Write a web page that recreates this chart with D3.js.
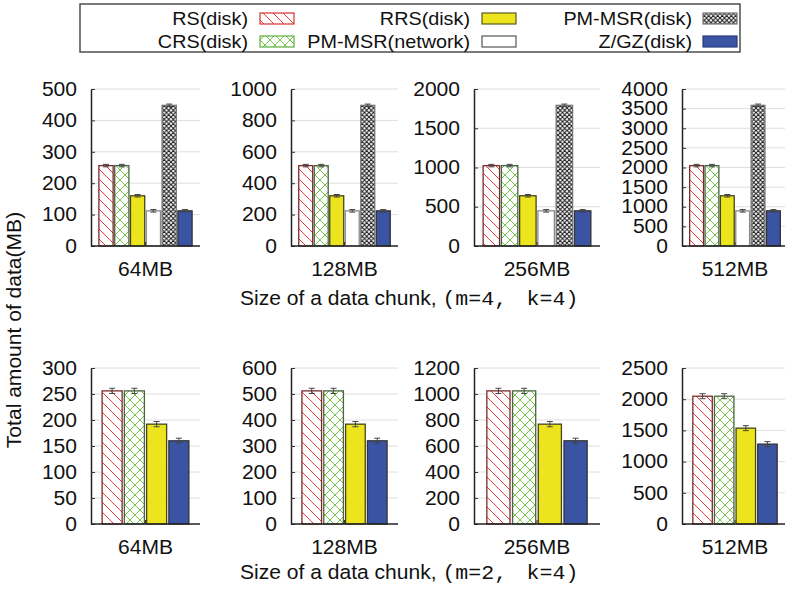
<!DOCTYPE html>
<html>
<head>
<meta charset="utf-8">
<script src="https://cdn.jsdelivr.net/npm/d3@7"></script>
<style>
  body { margin: 0; background: #fff; }
  text { font-family: "Liberation Sans", Arial, Helvetica, sans-serif; fill: #111; }
</style>
</head>
<body>
<svg id="chart" width="785" height="596"></svg>
<script>
// data
var topSeries = ["RS(disk)", "CRS(disk)", "RRS(disk)", "PM-MSR(network)", "PM-MSR(disk)", "Z/GZ(disk)"];
var bottomSeries = ["RS(disk)", "CRS(disk)", "RRS(disk)", "Z/GZ(disk)"];
var chunkSizes = ["64MB", "128MB", "256MB", "512MB"];

var topValues = [
  [256, 256, 160, 112, 448, 112],
  [512, 512, 320, 224, 896, 224],
  [1024, 1024, 640, 448, 1792, 448],
  [2048, 2048, 1280, 896, 3584, 896]
];
var topErrors = [
  [4, 4, 4, 4, 4, 4],
  [8, 8, 8, 8, 8, 8],
  [16, 16, 16, 16, 16, 16],
  [32, 32, 32, 32, 32, 32]
];
var bottomValues = [
  [256, 256, 192, 160],
  [512, 512, 384, 320],
  [1024, 1024, 768, 640],
  [2048, 2048, 1536, 1280]
];
var bottomErrors = [
  [5, 5, 5, 5],
  [10, 10, 10, 10],
  [20, 20, 20, 20],
  [40, 40, 40, 40]
];
var topMax = [500, 1000, 2000, 4000];
var topStep = [100, 200, 500, 500];
var bottomMax = [300, 600, 1200, 2500];
var bottomStep = [50, 100, 200, 500];

var xTitleTop = ["(m=4,", "k=4)"];
var xTitleBottom = ["(m=2,", "k=4)"];
var yTitle = "Total amount of data(MB)";

// layout
var SX = 1.08;      // the fonts in the picture are a bit wider than Liberation Sans
var FS = 19.5;
var panelX = [[91, 200], [291, 398], [474, 600], [682, 788]];
var rowsY = [[246, 89], [524, 368]];

var svg = d3.select("#chart");

// hatch patterns
var defs = svg.append("defs");
function hatch(id, size, color, width, both) {
  var p = defs.append("pattern")
    .attr("id", id)
    .attr("patternUnits", "userSpaceOnUse")
    .attr("width", size).attr("height", size);
  p.append("rect").attr("width", size).attr("height", size).attr("fill", "#fff");
  var s = size;
  var d = "M0,0L" + s + "," + s + "M-2," + (s - 2) + "L2," + (s + 2) + "M" + (s - 2) + ",-2L" + (s + 2) + ",2";
  if (both) d += "M0," + s + "L" + s + ",0M-2,2L2,-2M" + (s - 2) + "," + (s + 2) + "L" + (s + 2) + "," + (s - 2);
  p.append("path").attr("d", d).attr("stroke", color).attr("stroke-width", width).attr("fill", "none");
}
hatch("hRS", 10, "#f03a3a", 1, false);
hatch("hCRS", 10, "#74c54a", 1, true);
hatch("hPM", 4.5, "#1a1a1a", 1, true);

var styles = {
  "RS(disk)":        { fill: "url(#hRS)",  stroke: "#7a2b2b", legend: "#d83030" },
  "CRS(disk)":       { fill: "url(#hCRS)", stroke: "#4b6340", legend: "#5cb040" },
  "RRS(disk)":       { fill: "#ece51e",    stroke: "#45451a", legend: "#5a5a20" },
  "PM-MSR(network)": { fill: "#ffffff",    stroke: "#8a8a8a", legend: "#555" },
  "PM-MSR(disk)":    { fill: "url(#hPM)",  stroke: "#777777", legend: "#777" },
  "Z/GZ(disk)":      { fill: "#3a54a3",    stroke: "#333333", legend: "#2a3a80" }
};

// widen a text element along its baseline, keeping its anchor point
function stretch(sel, k) {
  k = k || SX;
  sel.each(function () {
    var t = d3.select(this);
    var x = +t.attr("x") || 0, y = +t.attr("y") || 0;
    var tr = t.attr("transform") || "";
    t.attr("x", 0).attr("y", 0)
      .attr("transform", tr + " translate(" + x + "," + y + ") scale(" + k + ",1)");
  });
}

function drawPanel(row, i, series, values, errors, max, step) {
  var x0 = panelX[i][0], x1 = panelX[i][1];
  var yS = d3.scaleLinear().domain([0, max]).range(rowsY[row]);
  var xS = d3.scaleBand().domain(series).range([x0, x1]).paddingInner(0.1).paddingOuter(0.5);
  var catS = d3.scaleBand().domain([chunkSizes[i]]).range([x0, x1]);
  var ticks = d3.range(0, max + 1, step);
  var g = svg.append("g");

  // grid
  g.selectAll(".grid").data(ticks.slice(1)).enter().append("line")
    .attr("x1", x0).attr("x2", x1)
    .attr("y1", d => yS(d)).attr("y2", d => yS(d))
    .attr("stroke", "#dedede").attr("stroke-width", 1);

  // bars
  g.selectAll(".bar").data(series).enter().append("rect")
    .attr("x", d => xS(d))
    .attr("y", (d, j) => yS(values[j]))
    .attr("width", xS.bandwidth())
    .attr("height", (d, j) => yS(0) - yS(values[j]))
    .attr("fill", d => styles[d].fill)
    .attr("stroke", d => styles[d].stroke)
    .attr("stroke-width", 1.3);

  // error bars
  var eb = g.selectAll(".err").data(series).enter().append("g")
    .attr("stroke", "#444").attr("stroke-width", 1);
  eb.append("line")
    .attr("x1", d => xS(d) + xS.bandwidth() / 2).attr("x2", d => xS(d) + xS.bandwidth() / 2)
    .attr("y1", (d, j) => yS(values[j] - errors[j])).attr("y2", (d, j) => yS(values[j] + errors[j]));
  eb.append("line")
    .attr("x1", d => xS(d) + xS.bandwidth() / 2 - 3).attr("x2", d => xS(d) + xS.bandwidth() / 2 + 3)
    .attr("y1", (d, j) => yS(values[j] + errors[j])).attr("y2", (d, j) => yS(values[j] + errors[j]));
  eb.append("line")
    .attr("x1", d => xS(d) + xS.bandwidth() / 2 - 3).attr("x2", d => xS(d) + xS.bandwidth() / 2 + 3)
    .attr("y1", (d, j) => yS(values[j] - errors[j])).attr("y2", (d, j) => yS(values[j] - errors[j]));

  // axes
  var ya = g.append("g").attr("transform", "translate(" + x0 + ",0)")
    .call(d3.axisLeft(yS).tickValues(ticks).tickFormat(d3.format("d"))
      .tickSizeInner(-4).tickSizeOuter(0).tickPadding(14));
  var xa = g.append("g").attr("transform", "translate(0," + yS(0) + ")")
    .call(d3.axisBottom(catS).tickSizeInner(-4).tickSizeOuter(0).tickPadding(16));
  [ya, xa].forEach(function (a) {
    a.select(".domain").attr("stroke", "#222").attr("stroke-width", 1.5);
    a.selectAll(".tick line").attr("stroke", "#333");
    a.selectAll(".tick text").attr("font-size", FS)
      .attr("font-family", "Liberation Sans, Arial, sans-serif").attr("fill", "#111");
    a.selectAll(".tick text").call(stretch);
  });
  xa.select(".domain").attr("d", "M" + x0 + ",0H" + x1);
}

chunkSizes.forEach(function (c, i) {
  drawPanel(0, i, topSeries, topValues[i], topErrors[i], topMax[i], topStep[i]);
  drawPanel(1, i, bottomSeries, bottomValues[i], bottomErrors[i], bottomMax[i], bottomStep[i]);
});

// x titles
[[305, xTitleTop], [579, xTitleBottom]].forEach(function (t) {
  var tx = svg.append("text")
    .attr("x", 240).attr("y", t[0])
    .attr("font-size", FS)
    .style("white-space", "pre")
    .text("Size of a data chunk, ");
  tx.append("tspan")
    .attr("font-family", "Liberation Mono, Courier New, monospace")
    .attr("font-size", 20)
    .text(t[1][0]);
  tx.append("tspan")
    .attr("font-family", "Liberation Mono, Courier New, monospace")
    .attr("font-size", 20)
    .attr("dx", 18)
    .text(t[1][1]);
  tx.call(stretch);
});

// y title
svg.append("text")
  .attr("transform", "translate(21,330) rotate(-90) scale(" + SX + ",1)")
  .attr("text-anchor", "middle")
  .attr("font-size", FS)
  .text(yTitle);

// legend
var legendTextX = [248, 470, 692];
var legendSwatchX = [260, 482, 703];
var legendRowY = [18.5, 41.5];
svg.append("rect")
  .attr("x", 80).attr("y", 4).attr("width", 660).attr("height", 48)
  .attr("fill", "none").attr("stroke", "#333").attr("stroke-width", 1.3);
var lg = svg.selectAll(".leg").data(topSeries).enter().append("g");
lg.append("rect")
  .attr("x", (d, i) => legendSwatchX[Math.floor(i / 2)])
  .attr("y", (d, i) => legendRowY[i % 2] - 5.5)
  .attr("width", 34).attr("height", 11)
  .attr("fill", d => styles[d].fill)
  .attr("stroke", d => styles[d].legend).attr("stroke-width", 1.2);
lg.append("text")
  .attr("x", (d, i) => legendTextX[Math.floor(i / 2)])
  .attr("y", (d, i) => legendRowY[i % 2] + 6.5)
  .attr("text-anchor", "end")
  .attr("font-size", 18)
  .text(d => d)
  .call(stretch, 1.1);
</script>
</body>
</html>
